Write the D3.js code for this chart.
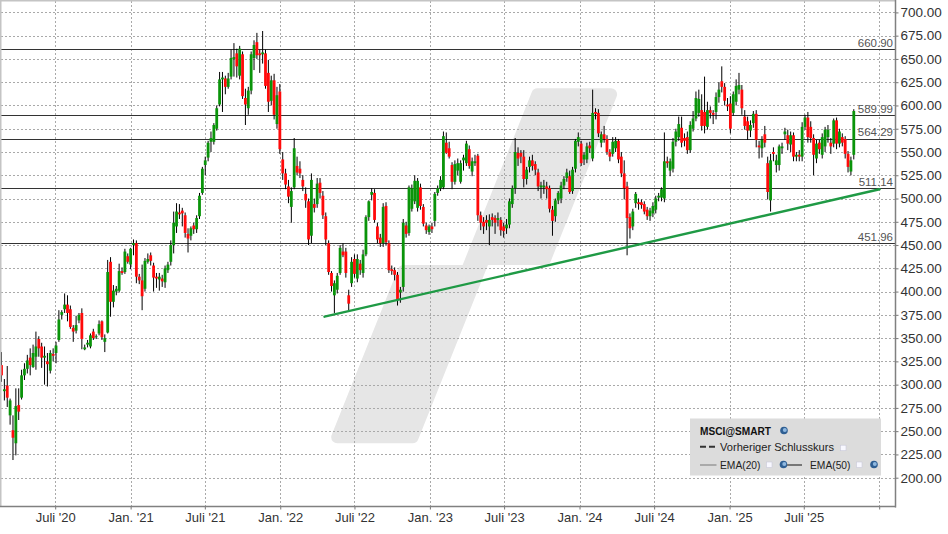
<!DOCTYPE html>
<html><head><meta charset="utf-8">
<script src="https://cdn.jsdelivr.net/npm/d3@7"></script>
<style>
html,body{margin:0;padding:0;background:#fff;}
svg{display:block;font-family:"Liberation Sans",Arial,sans-serif;}
</style>
</head><body>
<svg id="chart" width="948" height="534"></svg>
<script>
// ---- data (weekly candles, first week ending 2020-02-21) ----
const startDate = "2020-02-21";
const open = [
321,293,299,267,251,237,278,286,310,317,
329,319,330,349,341,329,325,315,333,334,
348,375,381,386,381,361,358,369,377,338,
343,341,357,351,355,368,346,356,432,389,
400,401,422,421,438,429,450,452,416,412,
403,432,439,428,416,413,414,410,423,432,
450,470,485,487,482,462,460,471,467,481,
506,536,544,561,561,575,601,628,629,620,
631,650,656,632,655,608,597,616,651,668,
656,655,656,635,605,627,580,615,542,527,
513,491,512,535,532,520,505,497,460,494,
494,517,503,481,452,420,396,402,420,443,
443,396,409,435,414,430,420,440,480,504,
506,470,458,452,492,452,424,423,418,399,
405,471,463,489,497,490,512,491,471,464,
470,476,506,511,512,560,554,536,518,530,
518,541,538,553,529,538,546,482,475,477,
470,480,479,477,477,470,468,472,494,511,
549,549,545,521,534,541,537,528,512,512,
513,511,488,481,498,500,514,522,524,508,
532,561,559,542,542,557,543,593,592,560,
569,564,550,548,554,562,545,527,513,480,
470,495,496,496,494,488,481,484,488,501,
501,500,540,530,532,561,566,576,565,566,
552,575,586,592,595,593,577,595,592,593,
609,626,620,601,602,592,604,617,617,588,
583,573,581,591,557,554,569,538,498,550,
536,536,554,569,568,558,568,545,547,545,
577,587,577,565,543,560,547,556,566,560,
559,584,559,566,564,548,529,547];
const high = [
335,306,320,285,267,296,296,316,323,332,
339,343,357,352,345,341,334,337,339,346,
380,380,398,396,385,364,374,377,382,343,
348,355,360,354,369,369,354,434,437,407,
406,430,426,446,441,447,456,455,419,429,
436,441,442,431,420,420,418,428,432,455,
486,495,494,490,485,468,470,474,482,506,
534,545,562,572,581,600,636,636,632,635,
660,667,661,664,658,618,620,658,670,678,
660,680,660,649,632,634,620,623,550,532,
520,512,565,545,540,525,512,500,527,500,
522,522,508,485,455,422,412,420,450,452,
447,402,437,440,440,434,445,482,498,511,
510,474,462,495,496,455,428,426,421,405,
478,475,514,515,525,522,516,494,474,472,
474,507,514,524,572,571,561,539,541,543,
541,547,562,557,544,547,548,486,480,482,
483,484,482,485,480,474,478,500,514,565,
555,552,552,534,545,547,540,532,518,520,
518,514,492,500,508,518,524,532,530,534,
564,571,562,550,560,561,617,597,596,572,
578,568,553,566,566,564,550,541,518,484,
489,507,500,499,497,491,490,496,503,506,
512,571,545,543,565,575,588,588,570,572,
583,594,615,617,612,631,604,599,595,614,
625,642,624,608,610,615,628,635,622,595,
588,584,594,595,562,567,578,545,548,555,
547,558,560,576,574,572,571,550,552,582,
590,593,583,569,563,563,570,577,579,565,
586,587,575,570,567,551,545,596];
const low = [
303,283,276,257,219,224,262,284,305,312,
310,318,316,330,318,300,298,312,325,323,
346,370,377,368,360,346,355,366,338,337,
340,339,348,349,353,348,335,355,373,383,
396,399,418,419,430,424,439,409,408,380,
400,430,428,400,404,401,405,404,420,428,
441,463,478,470,458,442,455,462,463,478,
504,525,540,550,558,573,599,593,612,618,
628,631,630,628,607,579,590,612,638,650,
635,645,618,593,600,585,575,548,520,510,
495,474,510,525,522,508,490,450,452,485,
490,500,478,450,418,400,377,398,418,437,
415,380,405,415,410,418,415,438,476,498,
474,452,448,448,450,420,418,412,385,388,
400,458,460,486,494,486,488,470,462,461,
463,470,503,508,510,548,543,510,515,525,
516,530,535,532,524,535,476,466,462,466,
450,470,462,470,460,458,462,468,490,505,
535,538,512,515,528,530,525,508,500,505,
500,485,460,475,494,495,510,518,505,505,
528,556,535,536,538,549,540,585,566,555,
560,547,540,545,550,538,523,499,439,457,
466,490,488,489,483,477,476,480,484,497,
497,496,533,524,528,556,562,555,556,548,
549,572,583,588,573,570,574,586,580,585,
603,614,600,594,570,589,600,612,590,574,
563,566,576,555,543,544,555,499,486,540,
528,530,548,563,552,550,540,540,540,540,
574,560,560,525,538,548,543,550,560,548,
555,553,555,556,543,528,525,542];
const close = [
310,295,286,283,243,277,271,310,317,326,
321,334,341,339,329,331,322,334,331,342,
370,378,386,377,362,357,364,375,349,340,
345,353,350,352,365,351,350,421,389,401,
403,422,420,443,432,446,452,416,412,395,
433,435,433,415,414,416,411,425,429,450,
474,486,483,484,463,457,468,467,479,503,
532,541,560,565,579,597,628,630,620,629,
651,652,642,661,610,601,616,655,665,654,
654,657,621,604,627,590,611,553,527,515,
502,508,554,528,527,513,498,456,520,490,
516,506,482,456,421,406,409,417,447,439,
420,387,432,419,435,423,440,480,497,507,
477,456,452,491,453,423,422,418,391,402,
474,462,512,511,519,519,492,473,466,470,
467,505,511,520,567,549,545,518,537,538,
538,544,559,535,540,540,482,474,470,474,
477,477,474,479,466,465,472,497,511,550,
543,545,521,531,541,535,531,513,514,514,
510,489,476,498,506,514,521,528,507,531,
562,566,538,547,556,554,592,591,570,569,
564,550,545,561,562,542,527,511,479,468,
486,505,494,493,486,481,487,492,500,503,
510,540,538,540,561,572,580,560,562,552,
579,586,608,607,578,578,595,592,590,609,
617,620,605,599,575,612,621,622,597,578,
573,579,591,563,555,563,560,507,541,548,
541,556,556,572,559,568,545,547,545,577,
587,566,565,547,559,553,566,574,574,556,
584,559,572,560,548,534,541,594];

const yTicks = [200,225,250,275,300,325,350,375,400,425,450,475,500,525,550,575,600,625,650,675,700];
const xTickDates = ["2020-07-01","2021-01-01","2021-07-01","2022-01-01","2022-07-01","2023-01-01","2023-07-01","2024-01-01","2024-07-01","2025-01-01","2025-07-01","2026-01-01"];
const xTickLabels = ["Juli '20","Jan. '21","Juli '21","Jan. '22","Juli '22","Jan. '23","Juli '23","Jan. '24","Juli '24","Jan. '25","Juli '25",""];
const levels = [660.90, 589.99, 564.29, 511.14, 451.96];
const trendDates = ["2022-04-19","2026-01-02"];
const trendValues = [373, 510];
const legendTitle = "MSCI@SMART";
const legendItems = ["Vorheriger Schlusskurs","EMA(20)","EMA(50)"];

// ---- layout ----
const svg = d3.select("#chart");
const W = 948, H = 534;
const plotL = 0, plotR = 895, plotT = 0, plotB = 506.5;
const parse = d3.utcParse("%Y-%m-%d");

const x = d3.scaleUtc()
  .domain([parse("2020-07-01"), parse("2026-01-01")])
  .range([55.2, 879.2]);
const y = d3.scaleLinear().domain([169.05, 712.25]).range([506.5, 1]);

svg.append("rect").attr("width", W).attr("height", H).attr("fill", "#fff");

// watermark logo (decorative)
const wm = [[537.4,94.3],[611.1,94.3],[545.2,259],[483.9,259],[412.6,437.3],[337.2,437.3],[403.7,271],[466.7,271]];
svg.append("path")
  .attr("d", d3.line()(wm) + "Z")
  .attr("fill", "#e6e6e6").attr("stroke", "#e6e6e6")
  .attr("stroke-width", 12).attr("stroke-linejoin", "round");

// grid
const grid = svg.append("g");
grid.selectAll("line.h").data(yTicks).join("line")
  .attr("x1", plotL + 1).attr("x2", plotR)
  .attr("y1", d => Math.round(y(d)) + 0.5).attr("y2", d => Math.round(y(d)) + 0.5)
  .attr("stroke", "#a9a9a9").attr("stroke-dasharray", "2,2");
grid.selectAll("line.v").data(xTickDates).join("line")
  .attr("x1", d => Math.round(x(parse(d))) + 0.5).attr("x2", d => Math.round(x(parse(d))) + 0.5)
  .attr("y1", plotT + 1).attr("y2", plotB)
  .attr("stroke", "#a9a9a9").attr("stroke-dasharray", "2,2");

// horizontal levels
svg.append("g").selectAll("line").data(levels).join("line")
  .attr("x1", plotL).attr("x2", plotR)
  .attr("y1", d => Math.round(y(d)) + 0.5).attr("y2", d => Math.round(y(d)) + 0.5)
  .attr("stroke", "#333").attr("stroke-width", 1);
svg.append("g").selectAll("text").data(levels).join("text")
  .attr("x", 893).attr("y", d => y(d) - 2.2)
  .attr("text-anchor", "end").attr("font-size", 11.5).attr("fill", "#555")
  .text(d => d3.format(".2f")(d));

// candles
const idx = d3.range(close.length);
const cx = i => x(d3.utcDay.offset(parse(startDate), 7 * i));
const cg = svg.append("g");
cg.selectAll("line").data(idx).join("line")
  .attr("x1", i => cx(i)).attr("x2", i => cx(i))
  .attr("y1", i => y(high[i])).attr("y2", i => y(low[i]))
  .attr("stroke", "#000").attr("stroke-width", 1);
cg.selectAll("rect").data(idx).join("rect")
  .attr("x", i => cx(i) - 1.4).attr("width", 2.8)
  .attr("y", i => y(Math.max(open[i], close[i])))
  .attr("height", i => Math.max(1, Math.abs(y(open[i]) - y(close[i]))))
  .attr("fill", i => close[i] >= open[i] ? "#0a940a" : "#ff0a0a");

// trendline
svg.append("line")
  .attr("x1", x(parse(trendDates[0]))).attr("y1", y(trendValues[0]))
  .attr("x2", x(parse(trendDates[1]))).attr("y2", y(trendValues[1]))
  .attr("stroke", "#1f9a45").attr("stroke-width", 2.4).attr("stroke-linecap", "round");

// frame
svg.append("line").attr("x1", 0).attr("x2", plotR).attr("y1", 0.5).attr("y2", 0.5).attr("stroke", "#c4c4c4").attr("stroke-width", 2);
svg.append("line").attr("x1", 0.5).attr("x2", 0.5).attr("y1", 0).attr("y2", plotB).attr("stroke", "#c4c4c4").attr("stroke-width", 2);

// axes
const yAxis = d3.axisRight(y).tickValues(yTicks).tickFormat(d3.format(".2f")).tickSize(3).tickPadding(2).tickSizeOuter(0);
const ya = svg.append("g").attr("transform", `translate(${plotR + 0.5},0)`).call(yAxis);
ya.select(".domain").remove();
ya.selectAll("line").attr("stroke", "#777");
ya.selectAll("text").attr("font-size", 13.5).attr("fill", "#333").attr("font-family", "Liberation Sans, Arial, sans-serif");

const xAxis = d3.axisBottom(x).tickValues(xTickDates.map(parse)).tickFormat((d, i) => xTickLabels[i]).tickSize(3).tickPadding(3.3).tickSizeOuter(0);
const xa = svg.append("g").attr("transform", `translate(0,${plotB})`).call(xAxis);
xa.select(".domain").remove();
xa.selectAll("line").attr("stroke", "#777");
xa.selectAll("text").attr("font-size", 13).attr("fill", "#333").attr("font-family", "Liberation Sans, Arial, sans-serif");

svg.append("line").attr("x1", plotR + 0.5).attr("x2", plotR + 0.5).attr("y1", 0).attr("y2", plotB + 1).attr("stroke", "#808080").attr("stroke-width", 1.5);
svg.append("line").attr("x1", 0).attr("x2", plotR + 1).attr("y1", plotB).attr("y2", plotB).attr("stroke", "#808080").attr("stroke-width", 1.5);

// legend
const lg = svg.append("g");
lg.append("rect").attr("x", 690).attr("y", 418.5).attr("width", 191).attr("height", 57).attr("fill", "#dcdcdc");
lg.append("text").attr("x", 700).attr("y", 434.5).attr("font-size", 11.5).attr("font-weight", "bold").attr("fill", "#111")
  .attr("textLength", 71).attr("lengthAdjust", "spacingAndGlyphs").text(legendTitle);
function globe(cx0, cy0) {
  lg.append("circle").attr("cx", cx0).attr("cy", cy0).attr("r", 3.8).attr("fill", "#2f5f93");
  lg.append("circle").attr("cx", cx0 + 0.8).attr("cy", cy0 - 0.6).attr("r", 2).attr("fill", "#8fb8e0");
}
function box(x0, y0) {
  lg.append("rect").attr("x", x0).attr("y", y0).attr("width", 5.5).attr("height", 5.5).attr("fill", "#f8f8ff").attr("stroke", "#c9c9d9").attr("stroke-width", 0.6);
}
globe(784, 430.5);
lg.append("line").attr("x1", 700).attr("x2", 716).attr("y1", 446.7).attr("y2", 446.7).attr("stroke", "#333").attr("stroke-width", 2).attr("stroke-dasharray", "6,3");
lg.append("text").attr("x", 720).attr("y", 450.5).attr("font-size", 10.8).attr("fill", "#222")
  .attr("textLength", 114).attr("lengthAdjust", "spacingAndGlyphs").text(legendItems[0]);
box(840.5, 445.2);
lg.append("line").attr("x1", 700).attr("x2", 716.5).attr("y1", 465).attr("y2", 465).attr("stroke", "#aaa").attr("stroke-width", 2);
lg.append("text").attr("x", 720).attr("y", 469).attr("font-size", 10.8).attr("fill", "#222")
  .attr("textLength", 40.5).attr("lengthAdjust", "spacingAndGlyphs").text(legendItems[1]);
box(766.5, 462);
globe(783.5, 464.5);
lg.append("line").attr("x1", 787).attr("x2", 802).attr("y1", 465).attr("y2", 465).attr("stroke", "#777").attr("stroke-width", 2);
lg.append("text").attr("x", 810).attr("y", 469).attr("font-size", 10.8).attr("fill", "#222")
  .attr("textLength", 40.5).attr("lengthAdjust", "spacingAndGlyphs").text(legendItems[2]);
box(856.5, 462);
globe(874, 464.5);
</script>
</body></html>
